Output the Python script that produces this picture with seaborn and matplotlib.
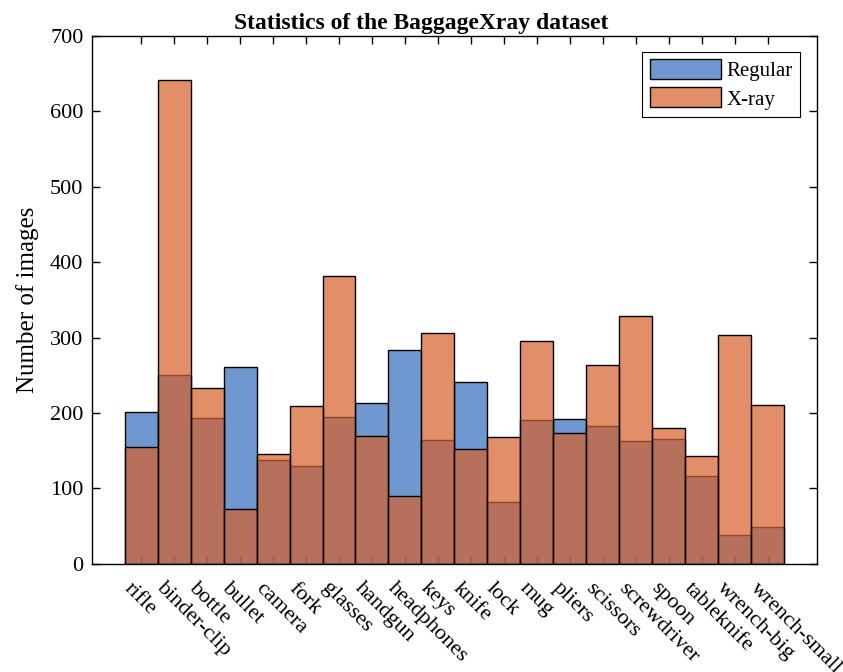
import numpy as np
import pandas as pd
import matplotlib
matplotlib.use("Agg")
import matplotlib.pyplot as plt
import matplotlib.transforms as mtransforms
import seaborn as sns
from matplotlib.patches import Patch

# Data
categories = ['rifle', 'binder-clip', 'bottle', 'bullet', 'camera', 'fork', 'glasses',
              'handgun', 'headphones', 'keys', 'knife', 'lock', 'mug', 'pliers',
              'scissors', 'screwdriver', 'spoon', 'tableknife', 'wrench-big', 'wrench-small']
regular = [201, 250, 193, 261, 137, 130, 194, 213, 283, 164, 241, 82, 191, 192,
           183, 163, 165, 116, 38, 48]
xray = [155, 642, 233, 72, 145, 209, 381, 169, 90, 306, 152, 168, 295, 173,
        264, 329, 180, 143, 303, 211]

blue = (50 / 255, 109 / 255, 188 / 255)
orange = (215 / 255, 96 / 255, 42 / 255)
alpha = 0.7

df = pd.DataFrame({'category': categories, 'Regular': regular, 'X-ray': xray})

sns.set_style("white")
plt.rcParams['font.family'] = ['Liberation Serif', 'DejaVu Serif']
plt.rcParams['text.color'] = 'black'
plt.rcParams['axes.labelcolor'] = 'black'
plt.rcParams['xtick.color'] = 'black'
plt.rcParams['ytick.color'] = 'black'

fig = plt.figure(figsize=(8.43, 6.72), dpi=100)
ax = fig.add_axes([0.1088, 0.1612, 0.8604, 0.7852])

# Regular series first, then X-ray on top (semi-transparent)
n0 = len(ax.patches)
sns.barplot(data=df, x='category', y='Regular', color=blue, width=1.0,
            edgecolor='black', linewidth=1.0, ax=ax)
for p in ax.patches[n0:]:
    p.set_facecolor((*blue, alpha))
n1 = len(ax.patches)
sns.barplot(data=df, x='category', y='X-ray', color=orange, width=1.0,
            edgecolor='black', linewidth=1.0, ax=ax)
for p in ax.patches[n1:]:
    p.set_facecolor((*orange, alpha))

ax.set_xlim(-1.5, 20.5)
ax.set_ylim(0, 700)
ax.set_yticks(range(0, 701, 100))
ax.set_xticks(range(len(categories)))
ax.set_xticklabels(categories, rotation=-45, ha='left', va='top',
                   rotation_mode='anchor', fontsize=16)
ax.tick_params(axis='y', labelsize=16)
ax.tick_params(direction='in', length=6, width=1,
               top=True, right=True, bottom=True, left=True, pad=6)
ax.tick_params(axis='x', pad=8)
for t in ax.get_xticklabels():
    t.set_transform(t.get_transform() +
                    mtransforms.ScaledTranslation(-8 / 100, -4 / 100, fig.dpi_scale_trans))

for s in ax.spines.values():
    s.set_visible(True)
    s.set_color('black')
    s.set_linewidth(1.0)

ax.set_xlabel('')
ax.set_ylabel('Number of images', fontsize=18, labelpad=8)
# title is centred on the figure, not on the axes
ax.set_title('Statistics of the BaggageXray dataset', fontsize=17, fontweight='bold',
             pad=5, x=0.4547)

handles = [Patch(facecolor=(*blue, alpha), edgecolor='black', label='Regular'),
           Patch(facecolor=(*orange, alpha), edgecolor='black', label='X-ray')]
leg = ax.legend(handles=handles, loc='upper right', bbox_to_anchor=(0.977, 0.97),
                fontsize=15, fancybox=False, framealpha=1, edgecolor='black',
                handlelength=3.4, handleheight=1.1, borderpad=0.35,
                labelspacing=0.3, handletextpad=0.3, borderaxespad=0.0)
leg.get_frame().set_linewidth(0.8)

plt.savefig("out.png", dpi=100)
